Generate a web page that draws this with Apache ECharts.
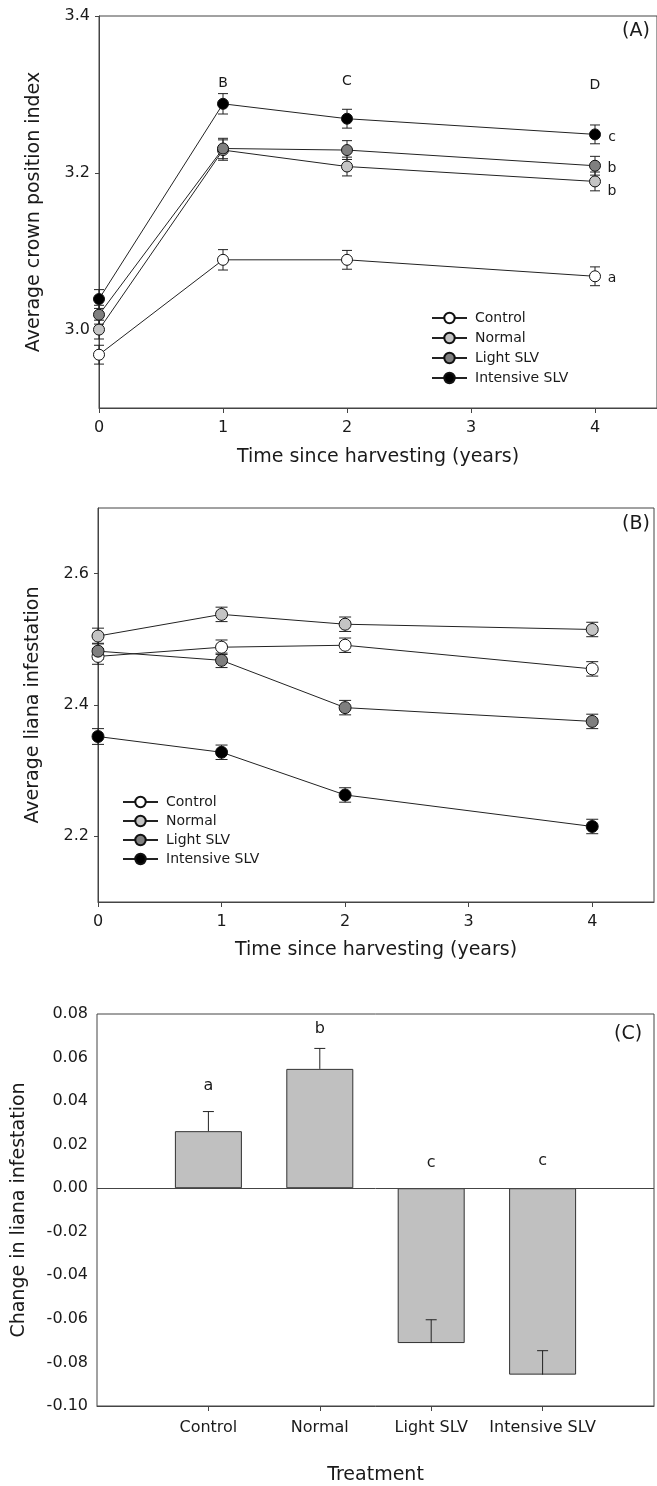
<!DOCTYPE html>
<html>
<head>
<meta charset="utf-8">
<script src="https://cdn.jsdelivr.net/npm/echarts@6/dist/echarts.min.js"></script>
<style>
  html, body { margin: 0; padding: 0; background: #fff; }
  #main { width: 657px; height: 1486px; }
</style>
</head>
<body>
<div id="main"></div>
<script>
// data
const years = [0, 1, 2, 4]
const groups = ['Control', 'Normal', 'Light SLV', 'Intensive SLV']
const fills = ['#ffffff', '#c4c4c4', '#7f7f7f', '#000000']

// (A) average crown position index
const crownControl = [2.968, 3.089, 3.089, 3.068]
const crownNormal = [3.000, 3.229, 3.208, 3.189]
const crownLight = [3.019, 3.231, 3.229, 3.209]
const crownIntensive = [3.039, 3.288, 3.269, 3.249]
const crownErr = [0.012, 0.013, 0.012, 0.012]
const crownTicks = [3.0, 3.2, 3.4]
const crownTopLetters = ['B', 'C', 'D']     // over years 1, 2, 4
const crownTopLetterY = [3.314, 3.316, 3.311]
const crownSideLetters = ['a', 'b', 'b', 'c'] // Control, Normal, Light, Intensive at year 4
const crownSideLetterY = [3.065, 3.176, 3.206, 3.245]

// (B) average liana infestation
const lianaControl = [2.474, 2.488, 2.491, 2.455]
const lianaNormal = [2.505, 2.538, 2.523, 2.515]
const lianaLight = [2.482, 2.468, 2.396, 2.375]
const lianaIntensive = [2.352, 2.328, 2.263, 2.215]
const lianaErr = [0.012, 0.011, 0.011, 0.011]
const lianaTicks = [2.2, 2.4, 2.6]

// (C) change in liana infestation
const changeValues = [0.0262, 0.0548, -0.0711, -0.0856]
const changeErr = [0.0090, 0.0094, 0.0107, 0.0110]
const changeLetters = ['a', 'b', 'c', 'c']
const changeLetterY = [0.0468, 0.0733, 0.0118, 0.0128]

const timeTicks = [0, 1, 2, 3, 4]
const font = 'DejaVu Sans'
const ink = '#1a1a1a'

const crownSeries = [crownControl, crownNormal, crownLight, crownIntensive]
const lianaSeries = [lianaControl, lianaNormal, lianaLight, lianaIntensive]

// error bar drawn with the axis scales
function errorBar(capW, both) {
  return function (params, api) {
    const x = api.value(0)
    const lo = api.coord([x, api.value(1)])
    const hi = api.coord([x, api.value(2)])
    const st = { stroke: '#222', lineWidth: 1 }
    const kids = [
      { type: 'line', shape: { x1: lo[0], y1: lo[1], x2: hi[0], y2: hi[1] }, style: st },
      { type: 'line', shape: { x1: hi[0] - capW / 2, y1: hi[1], x2: hi[0] + capW / 2, y2: hi[1] }, style: st }
    ]
    if (both) {
      kids.push({ type: 'line', shape: { x1: lo[0] - capW / 2, y1: lo[1], x2: lo[0] + capW / 2, y2: lo[1] }, style: st })
    }
    return { type: 'group', children: kids }
  }
}

function timeAxis(gridIndex, nameGap) {
  return {
    type: 'value', gridIndex: gridIndex, min: 0, max: 4.5,
    name: 'Time since harvesting (years)', nameLocation: 'middle', nameGap: nameGap,
    nameTextStyle: { fontSize: 19, color: ink, fontFamily: font },
    axisLine: { onZero: false, lineStyle: { color: '#444' } },
    axisTick: { customValues: timeTicks, length: 5, lineStyle: { color: '#444' } },
    axisLabel: { customValues: timeTicks, fontSize: 16, margin: 12, color: ink, fontFamily: font },
    splitLine: { show: false }
  }
}

function valueAxis(gridIndex, min, max, ticks, name, nameGap) {
  return {
    type: 'value', gridIndex: gridIndex, min: min, max: max,
    name: name, nameLocation: 'middle', nameGap: nameGap,
    nameTextStyle: { fontSize: 19, color: ink, fontFamily: font },
    axisLine: { onZero: false, lineStyle: { color: '#444' } },
    axisTick: { customValues: ticks, length: 4, lineStyle: { color: '#444' } },
    axisLabel: { customValues: ticks, fontSize: 16, margin: 9, color: ink, fontFamily: font,
      formatter: v => v.toFixed(1) },
    splitLine: { show: false }
  }
}

function lineSeries(idx, values, size) {
  return values.map((vals, g) => ({
    name: groups[g], type: 'line', xAxisIndex: idx, yAxisIndex: idx,
    data: years.map((y, i) => [y, vals[i]]),
    symbol: 'circle', symbolSize: size, z: 3,
    lineStyle: { color: '#222', width: 1 },
    itemStyle: { color: fills[g], borderColor: '#111', borderWidth: 1 },
    emphasis: { disabled: true }
  }))
}

function errorSeries(idx, values, errs, capW) {
  return values.map(vals => ({
    type: 'custom', xAxisIndex: idx, yAxisIndex: idx, z: 2, silent: true,
    renderItem: errorBar(capW, true),
    encode: { x: 0, y: [1, 2] },
    data: years.map((y, i) => [y, vals[i] - errs[i], vals[i] + errs[i]])
  }))
}

function letterSeries(idx, items, size, offset) {
  return {
    type: 'scatter', xAxisIndex: idx, yAxisIndex: idx, symbolSize: 0, silent: true, z: 5,
    itemStyle: { opacity: 1 },
    label: { show: true, formatter: '{b}', fontSize: size, color: ink, position: 'inside', offset: offset },
    data: items
  }
}

const myChart = echarts.init(document.getElementById('main'))
myChart.setOption({
  animation: false,
  textStyle: { fontFamily: font, color: ink },
  grid: [
    { left: 99, right: -6, top: 16, bottom: 1078, show: true, borderColor: '#444', borderWidth: 1 },
    { left: 98, right: 3, top: 508, bottom: 584, show: true, borderColor: '#444', borderWidth: 1 },
    { left: 97, right: 3, top: 1014, bottom: 79, show: true, borderColor: '#444', borderWidth: 1 }
  ],
  legend: [
    { data: groups, orient: 'vertical', left: 426, top: 306, itemWidth: 35, itemHeight: 13, itemGap: 6,
      selectedMode: false, textStyle: { fontSize: 14, color: ink, padding: [0, 0, 0, 3] } },
    { data: groups, orient: 'vertical', left: 117, top: 790, itemWidth: 35, itemHeight: 13, itemGap: 5,
      selectedMode: false, textStyle: { fontSize: 14, color: ink, padding: [0, 0, 0, 3] } }
  ],
  graphic: [
    { type: 'text', left: 622, top: 22, style: { text: '(A)', font: '19px "DejaVu Sans"', fill: ink } },
    { type: 'text', left: 622, top: 515, style: { text: '(B)', font: '19px "DejaVu Sans"', fill: ink } },
    { type: 'text', left: 614, top: 1025, style: { text: '(C)', font: '19px "DejaVu Sans"', fill: ink } }
  ],
  xAxis: [
    timeAxis(0, 40),
    timeAxis(1, 39),
    {
      type: 'category', gridIndex: 2, boundaryGap: false,
      data: [''].concat(groups, ['']),
      name: 'Treatment', nameLocation: 'middle', nameGap: 60,
      nameTextStyle: { fontSize: 19, color: ink, fontFamily: font },
      axisLine: { onZero: false, lineStyle: { color: '#444' } },
      axisTick: { length: 5, interval: i => i > 0 && i < 5, lineStyle: { color: '#444' } },
      axisLabel: { interval: 0, fontSize: 16, margin: 14, color: ink, fontFamily: font }
    }
  ],
  yAxis: [
    valueAxis(0, 2.9, 3.4, crownTicks, 'Average crown position index', 55),
    valueAxis(1, 2.1, 2.7, lianaTicks, 'Average liana infestation', 55),
    {
      type: 'value', gridIndex: 2, min: -0.1, max: 0.08, interval: 0.02,
      name: 'Change in liana infestation', nameLocation: 'middle', nameGap: 68,
      nameTextStyle: { fontSize: 19, color: ink, fontFamily: font },
      axisLine: { lineStyle: { color: '#444' } },
      axisTick: { length: 4, lineStyle: { color: '#444' } },
      axisLabel: { fontSize: 16, margin: 9, color: ink, fontFamily: font, formatter: v => v.toFixed(2) },
      splitLine: { show: false }
    }
  ],
  series: [].concat(
    errorSeries(0, crownSeries, crownErr, 10),
    lineSeries(0, crownSeries, 11),
    errorSeries(1, lianaSeries, lianaErr, 12),
    lineSeries(1, lianaSeries, 12),
    [
      letterSeries(0, crownTopLetters.map((t, i) => ({ name: t, value: [years[i + 1], crownTopLetterY[i]] })), 14, [0, 0]),
      letterSeries(0, crownSideLetters.map((t, i) => ({ name: t, value: [4, crownSideLetterY[i]] })), 14, [17, 0]),
      {
        type: 'bar', xAxisIndex: 2, yAxisIndex: 2, barWidth: 67, z: 2,
        data: groups.map((g, i) => [g, changeValues[i]]),
        itemStyle: { color: '#c0c0c0', borderColor: '#333', borderWidth: 1 },
        emphasis: { disabled: true },
        markLine: {
          silent: true, symbol: ['none', 'none'], label: { show: false },
          lineStyle: { color: '#444', type: 'solid', width: 1 },
          data: [{ yAxis: 0 }]
        }
      },
      {
        type: 'custom', xAxisIndex: 2, yAxisIndex: 2, z: 3, silent: true,
        renderItem: errorBar(11, false),
        encode: { x: 0, y: [1, 2] },
        data: groups.map((g, i) => [g, changeValues[i], changeValues[i] + changeErr[i]])
      },
      letterSeries(2, changeLetters.map((t, i) => ({ name: t, value: [groups[i], changeLetterY[i]] })), 16, [0, 0])
    ]
  )
})
</script>
</body>
</html>
